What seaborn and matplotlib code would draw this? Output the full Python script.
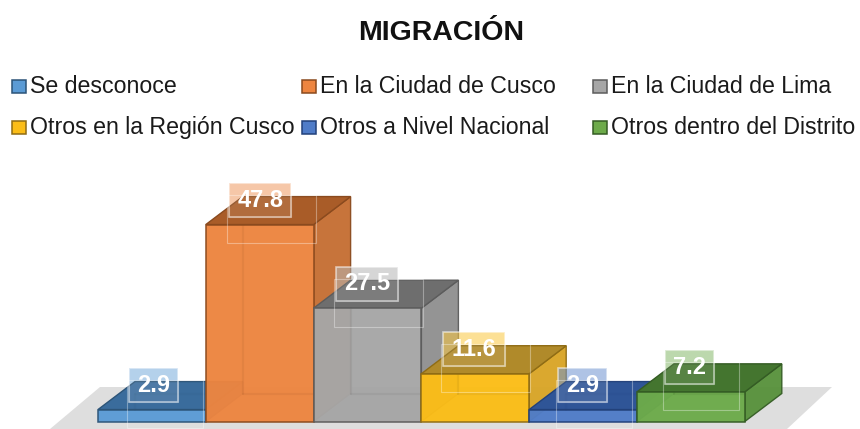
import matplotlib
matplotlib.use("Agg")
from matplotlib import pyplot as plt
from matplotlib.patches import Polygon, Rectangle
import seaborn as sns

categories = ["Se desconoce", "En la Ciudad de Cusco", "En la Ciudad de Lima",
              "Otros en la Región Cusco", "Otros a Nivel Nacional", "Otros dentro del Distrito"]
values = [2.9, 47.8, 27.5, 11.6, 2.9, 7.2]
labels = ["2.9", "47.8", "27.5", "11.6", "2.9", "7.2"]

front_colors = ["#5b9bd5", "#ed8540", "#a6a6a6", "#fbbd17", "#4f7cc8", "#6dab4a"]
side_colors = ["#3f75a8", "#c46c30", "#8e8e8e", "#d8a424", "#34599a", "#56903a"]
top_colors = ["#3a6c9c", "#a95c28", "#6e6e6e", "#b08a2a", "#2f5597", "#44752f"]
edge_colors = ["#2c5478", "#8a4a1e", "#5c5c5c", "#8f6c14", "#22417a", "#345c24"]

W, H = 860, 429
sns.set_theme(style="white")
plt.rcParams["font.family"] = ["Liberation Sans", "DejaVu Sans"]

fig = plt.figure(figsize=(W / 100, H / 100), dpi=100)
ax = fig.add_axes([0, 0, 1, 1])

# bars sit at x 98..745 px, baseline y 421.5, 4.12 px per unit
px_x = 107.8
px_y = 4.12
x0 = -0.5 - 98 / px_x
y0 = -(H - 421.5) / px_y


def dx(x):
    return x0 + x / px_x


def dy(y):
    return y0 + (H - y) / px_y


sns.barplot(x=categories, y=values, hue=categories, palette=front_colors, width=1,
            saturation=1, legend=False, ax=ax)
ax.set_xlim(x0, x0 + W / px_x)
ax.set_ylim(y0, y0 + H / px_y)
ax.axis("off")
bars = list(ax.patches)

# grey floor
ax.add_patch(Polygon([(dx(50), dy(429)), (dx(100), dy(387)), (dx(832), dy(387)), (dx(787), dy(429))],
                     facecolor="#dedede", edgecolor="none", zorder=0.5))

depth_x = 37 / px_x
depth_y = 28 / px_y

for i, bar in enumerate(bars):
    z = 2 + i
    left = bar.get_x()
    right = left + bar.get_width()
    top = bar.get_height()
    edge = edge_colors[i]
    # side and top faces first, the front goes over them
    ax.add_patch(Polygon([(right, 0), (right + depth_x, depth_y), (right + depth_x, top + depth_y), (right, top)],
                         facecolor=side_colors[i], edgecolor=edge, linewidth=1, alpha=0.95, zorder=z))
    ax.add_patch(Polygon([(left, top), (left + depth_x, top + depth_y), (right + depth_x, top + depth_y), (right, top)],
                         facecolor=top_colors[i], edgecolor=edge, linewidth=1, zorder=z + 0.1))
    bar.set_zorder(z + 0.2)
    bar.set_alpha(0.97)
    bar.set_edgecolor(edge)
    bar.set_linewidth(1.1)
    # back edges showing through the front
    ax.plot([left + depth_x, left + depth_x], [depth_y, top], color=edge, alpha=0.1, lw=1.5, zorder=z + 0.3)
    ax.plot([left + depth_x, right], [depth_y, depth_y], color=edge, alpha=0.1, lw=1.5, zorder=z + 0.3)

# value labels with their glass boxes
label_shift = [2, 0.5, -0.5, -1, -0.5, -1.5]
for i, bar in enumerate(bars):
    cx = bar.get_x() + bar.get_width() / 2 + label_shift[i] / px_x
    cy = bar.get_height() + 24.5 / px_y
    half = (62 if len(labels[i]) == 4 else 49) / 2 / px_x
    # tinted part stays behind its own bar, the pale outline goes over everything
    ax.add_patch(Rectangle((cx - half, cy - 17 / px_y), 2 * half, 34 / px_y, facecolor=front_colors[i],
                           edgecolor="none", alpha=0.5, zorder=2 + i - 0.1))
    ax.add_patch(Rectangle((cx - half, cy - 17 / px_y), 2 * half, 34 / px_y, facecolor="white",
                           edgecolor="white", alpha=0.1, linewidth=1, zorder=19))
    ax.add_patch(Rectangle((cx - half, cy - 17 / px_y), 2 * half, 34 / px_y, fill=False,
                           edgecolor="white", alpha=0.55, linewidth=1.2, zorder=19.5))
    ax.add_patch(Rectangle((cx - half - 2 / px_x, cy - 43 / px_y), 2 * half + 27 / px_x, 48 / px_y,
                           fill=False, edgecolor="white", alpha=0.35, linewidth=0.8, zorder=20))
    ax.text(cx, cy, labels[i], color="white", fontsize=17, fontweight="bold", ha="center", va="center",
            zorder=21)

fig.text(441 / W, 1 - 32.5 / H, "MIGRACIÓN", fontsize=20.5, fontweight="bold", color="#111111",
         ha="center", va="center")

# legend laid out by hand, the columns are not even
legend_x = [12, 302, 593, 12, 302, 593]
legend_y = [86.5, 86.5, 86.5, 127.5, 127.5, 127.5]
for i, name in enumerate(categories):
    fig.add_artist(Rectangle((legend_x[i] / W, 1 - (legend_y[i] + 6.5) / H), 14 / W, 13 / H,
                             transform=fig.transFigure, facecolor=front_colors[i],
                             edgecolor=edge_colors[i], linewidth=1.1))
    fig.text((legend_x[i] + 18) / W, 1 - legend_y[i] / H, name, fontsize=16.7, color="#1a1a1a",
             ha="left", va="center")

fig.savefig("out.png", dpi=100)
